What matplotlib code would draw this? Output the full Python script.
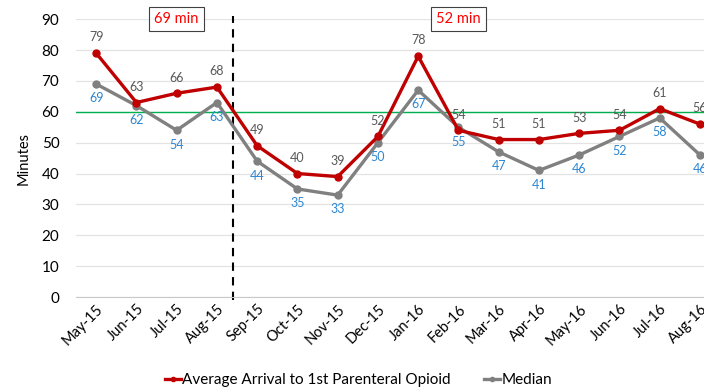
import matplotlib
matplotlib.use("Agg")
import matplotlib.pyplot as plt
import numpy as np

# Monthly figures
months = ["May-15", "Jun-15", "Jul-15", "Aug-15", "Sep-15", "Oct-15", "Nov-15", "Dec-15",
          "Jan-16", "Feb-16", "Mar-16", "Apr-16", "May-16", "Jun-16", "Jul-16", "Aug-16"]
average = [79, 63, 66, 68, 49, 40, 39, 52, 78, 54, 51, 51, 53, 54, 61, 56]
median = [69, 62, 54, 63, 44, 35, 33, 50, 67, 55, 47, 41, 46, 52, 58, 46]
target = 60
period_labels = ["69 min", "52 min"]
period_pos = [2, 9]
split_pos = 3.4

plt.rcParams["font.family"] = ["Lato", "DejaVu Sans"]

RED = "#C00000"
GREY = "#808080"
BLUE = "#2E86D1"

fig = plt.figure(figsize=(7.04, 3.91), dpi=100)
ax = fig.add_axes([0.108, 0.2404, 0.892, 0.7106])

x = np.arange(len(months))
ax.plot(x, average, color=RED, lw=2.4, marker="o", ms=5, zorder=4,
        label="Average Arrival to 1st Parenteral Opioid")
ax.plot(x, median, color=GREY, lw=2.4, marker="o", ms=5, zorder=3,
        label="Median")

for xi, v in zip(x, average):
    ax.annotate(str(v), (xi, v), xytext=(0, 7), textcoords="offset points",
                ha="center", va="bottom", fontsize=9, color="#595959", zorder=5)
for xi, v in zip(x, median):
    ax.annotate(str(v), (xi, v), xytext=(0, -6), textcoords="offset points",
                ha="center", va="top", fontsize=9, color=BLUE, zorder=5)

ax.axhline(target, color="#00B050", lw=1.0, zorder=2)
ax.plot([split_pos, split_pos], [-1, 91], color="black", lw=1.5,
        ls=(0, (4, 3)), clip_on=False, zorder=2)

for txt, p in zip(period_labels, period_pos):
    ax.text(p, 90, txt, ha="center", va="center", fontsize=10.5, color="#FF0000",
            bbox=dict(boxstyle="square,pad=0.35", fc="white", ec="#404040", lw=0.8),
            zorder=6, clip_on=False)

ax.set_xlim(-0.5, 15.1)
ax.set_ylim(0, 90)
ax.set_yticks(range(0, 91, 10))
ax.yaxis.grid(True, color="#E3E3E3", lw=0.9)
ax.set_axisbelow(True)
for s in ["left", "right", "top"]:
    ax.spines[s].set_visible(False)
ax.spines["bottom"].set_color("#C8C8C8")
ax.tick_params(axis="both", length=0, labelsize=11, colors="black")
ax.tick_params(axis="y", pad=12)
ax.set_xticks(x)
ax.set_xticklabels(months, rotation=45, ha="right", rotation_mode="anchor", fontsize=10.5)
ax.set_ylabel("Minutes", fontsize=10.5, labelpad=8)

ax.legend(loc="center", bbox_to_anchor=(0.45, -0.30), ncol=2, frameon=False,
          fontsize=11, handlelength=1.0, handletextpad=0.1, columnspacing=2.2,
          markerscale=0.6)

fig.savefig("out.png", dpi=100)
